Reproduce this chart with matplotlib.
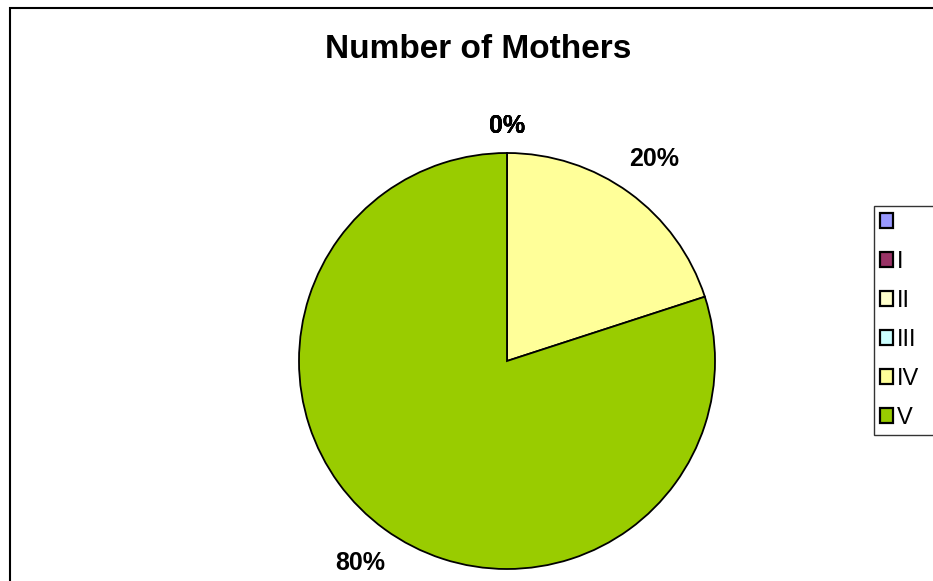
import matplotlib
matplotlib.use("Agg")
import matplotlib.pyplot as plt
from matplotlib.patches import Rectangle

plt.rcParams["font.family"] = ["Liberation Sans", "DejaVu Sans"]

categories = ["", "I", "II", "III", "IV", "V"]
mothers = [0, 0, 0, 0, 1, 4]
colors = ["#9999FF", "#993366", "#FFFFCC", "#CCFFFF", "#FFFF99", "#99CC00"]

fig = plt.figure(figsize=(9.33, 5.81), dpi=100)

# chart area border (runs off the right and bottom edges)
fig.patches.append(Rectangle((10 / 933, -0.1), 1.0, 1.1 - 8 / 581,
                             transform=fig.transFigure, fill=False,
                             edgecolor="black", linewidth=1.5))

ax = fig.add_axes([299 / 933, 12 / 581, 416 / 933, 416 / 581])

wedges, texts, autotexts = ax.pie(
    mothers,
    colors=colors,
    startangle=90,
    counterclock=False,
    autopct="%.0f%%",
    pctdistance=1.2,
    wedgeprops=dict(edgecolor="black", linewidth=1.3),
    textprops=dict(fontsize=18, fontweight="bold"),
)
for t, v in zip(autotexts, mothers):
    if v == 0:
        x, y = t.get_position()
        t.set_position((x * 1.13 / 1.2, y * 1.13 / 1.2))

ax.set_xlim(-1, 1)
ax.set_ylim(-1, 1)
ax.set_aspect("equal")

fig.text(478 / 933, 1 - 50 / 581, "Number of Mothers", ha="center",
         va="center", fontsize=24, fontweight="bold")

# legend box runs past the right edge of the picture
leg = fig.legend(wedges, categories, loc="upper left",
                 bbox_to_anchor=(874 / 933, 1 - 206 / 581, 90 / 933, 0.0),
                 mode="expand",
                 fontsize=17, frameon=True, fancybox=False,
                 handlelength=0.55, handleheight=0.55, handletextpad=0.15,
                 labelspacing=0.72, borderpad=0.25, borderaxespad=0)
leg.get_frame().set_edgecolor("black")
leg.get_frame().set_linewidth(1.0)
for h in leg.legend_handles:
    h.set_linewidth(1.6)

fig.savefig("out.png", dpi=100)
